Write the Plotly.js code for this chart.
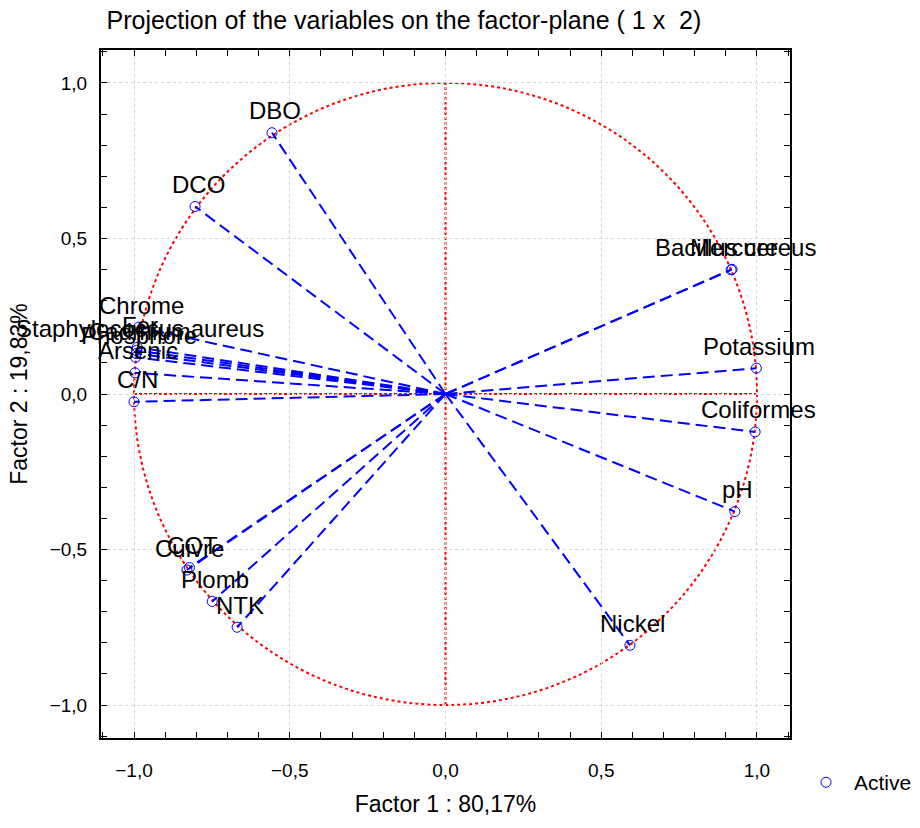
<!DOCTYPE html>
<html>
<head>
<meta charset="utf-8">
<script src="https://cdn.plot.ly/plotly-3.0.1.min.js"></script>
<style>html,body{margin:0;padding:0;background:#fff}#chart{width:920px;height:828px}</style>
</head>
<body>
<div id="chart"></div>
<script>
// Variable names and their coordinates on factors 1 and 2
var variables = ["DBO","DCO","Bacillus cereus","Mercure","Potassium","Coliformes","pH","Nickel","NTK","Plomb","COT","Cuivre","Chrome","Fer","Staphylococcus aureus","Cadmium","Phosphore","Arsenic","C/N"];
var factor1 = [-0.557,-0.804,0.920,0.917,0.998,0.994,0.929,0.592,-0.669,-0.749,-0.822,-0.830,-0.985,-0.990,-0.992,-0.993,-0.995,-0.997,-1.000];
var factor2 = [0.840,0.603,0.401,0.399,0.083,-0.122,-0.378,-0.808,-0.750,-0.667,-0.558,-0.566,0.215,0.150,0.140,0.130,0.118,0.068,-0.025];
var tickVals = [-1.0,-0.5,0.0,0.5,1.0];

var blue = '#0000ff', red = '#ff0000';
var fontFam = 'Liberation Sans, Arial, sans-serif';
var traces = [];
for (var i = 0; i < variables.length; i++) {
  traces.push({
    type: 'scatter', mode: 'lines', x: [0, factor1[i]], y: [0, factor2[i]],
    line: {color: blue, width: 2, dash: '12px,6px'}, showlegend: false, hoverinfo: 'skip'
  });
}
traces.push({
  type: 'scatter', mode: 'markers', x: factor1, y: factor2, name: 'Active',
  marker: {symbol: 'circle-open', size: 10, color: blue, line: {width: 1, color: blue}},
  showlegend: true, cliponaxis: false
});

var annotations = variables.map(function (name, i) {
  return {x: factor1[i], y: factor2[i], xref: 'x', yref: 'y', text: name, showarrow: false,
    yshift: 22, xshift: 3, xanchor: 'center', yanchor: 'middle',
    font: {family: fontFam, size: 24, color: '#000'}};
});

var axisCommon = {
  range: [-1.106, 1.106], tickvals: tickVals, tickformat: '.1f',
  showline: true, linecolor: '#000', linewidth: 2, mirror: 'ticks',
  ticks: 'inside', ticklen: 6, tickcolor: '#000', tickwidth: 1,
  showgrid: true, gridcolor: '#d4d4d4', griddash: 'dot', gridwidth: 1,
  zeroline: false, automargin: false,
  minor: {dtick: 0.1, ticks: 'inside', ticklen: 6, tickcolor: '#000', showgrid: false},
  tickfont: {family: fontFam, size: 19, color: '#000'}
};
var xaxis = Object.assign({}, axisCommon, {
  title: {text: 'Factor 1 : 80,17%', font: {family: fontFam, size: 23, color: '#000'}, standoff: 16},
  ticklabelstandoff: 14
});
var yaxis = Object.assign({}, axisCommon, {
  title: {text: 'Factor 2 : 19,83%', font: {family: fontFam, size: 23, color: '#000'}, standoff: 16},
  ticklabelstandoff: 8
});

var layout = {
  width: 920, height: 828,
  margin: {l: 101, r: 130, t: 50, b: 90, autoexpand: false},
  paper_bgcolor: '#fff', plot_bgcolor: '#fff',
  separators: ', ',
  title: {text: 'Projection of the variables on the factor-plane ( 1 x  2)', x: 0.008, xref: 'paper', xanchor: 'left', y: 0.976, yanchor: 'middle', automargin: false,
    font: {family: fontFam, size: 25, color: '#000'}},
  xaxis: xaxis, yaxis: yaxis,
  annotations: annotations,
  showlegend: true,
  legend: {x: 1.0116, xanchor: 'left', y: -0.035, yanchor: 'top', bgcolor: 'rgba(0,0,0,0)', itemwidth: 46,
    font: {family: fontFam, size: 21, color: '#000'}},
  shapes: [
    {type: 'circle', xref: 'x', yref: 'y', x0: -1, y0: -1, x1: 1, y1: 1, line: {color: red, width: 2, dash: 'dot'}, layer: 'below'},
    {type: 'line', xref: 'x', yref: 'y', x0: 0, y0: -1, x1: 0, y1: 1, line: {color: red, width: 2, dash: '3px,2px'}, layer: 'below'},
    {type: 'line', xref: 'x', yref: 'y', x0: -1, y0: 0, x1: 1, y1: 0, line: {color: red, width: 2, dash: '3px,2px'}, layer: 'below'}
  ]
};

Plotly.newPlot('chart', traces, layout, {displayModeBar: false, staticPlot: true});
</script>
</body>
</html>
